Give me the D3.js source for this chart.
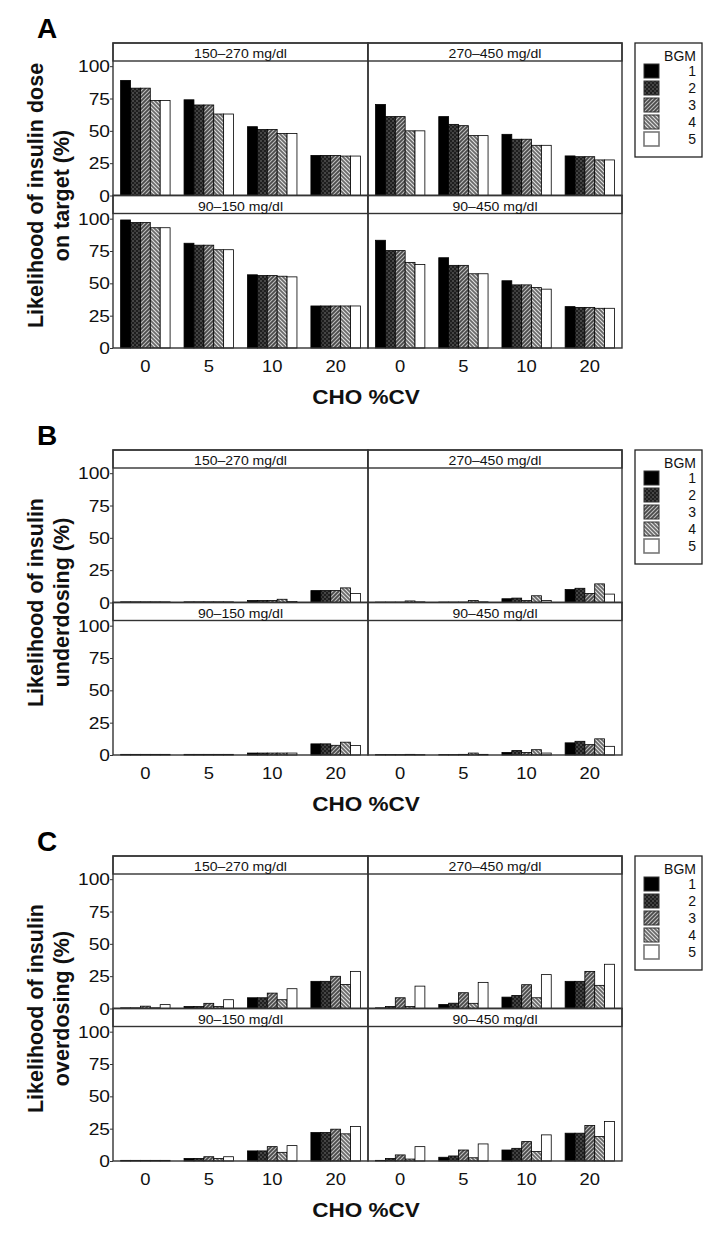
<!DOCTYPE html>
<html><head><meta charset="utf-8">
<script src="https://cdn.jsdelivr.net/npm/d3@7/dist/d3.min.js"></script>
<style>body{margin:0;background:#fff}svg{display:block}</style>
</head><body>
<script>
// ---- data ----
const cvLevels = ["0", "5", "10", "20"];
const bgmLevels = ["1", "2", "3", "4", "5"];
const facetNames = ["150–270 mg/dl", "270–450 mg/dl", "90–150 mg/dl", "90–450 mg/dl"];
const panelLetters = ["A", "B", "C"];
const yTitles = [["Likelihood of insulin dose", "on target (%)"], ["Likelihood of insulin", "underdosing (%)"], ["Likelihood of insulin", "overdosing (%)"]];
const xTitle = "CHO %CV";
const legendTitle = "BGM";
const yTicks = [0, 25, 50, 75, 100];

// rows = CHO %CV levels, columns = BGM 1..5
const onTarget_150_270 = [[89, 83, 83, 73.5, 73.5], [74, 70, 70, 63, 63], [53.2, 51, 51, 48, 48], [31, 31, 31, 30.5, 30.5]];
const onTarget_270_450 = [[70.4, 61, 61, 50, 50], [61, 55, 54, 46.3, 46.3], [47.3, 43.5, 43.5, 38.8, 38.8], [30.6, 30, 30, 27.5, 27.5]];
const onTarget_90_150 = [[99, 97, 97, 93, 93], [81, 79.5, 79.5, 76, 76], [56.6, 56, 56, 55.5, 55], [32.5, 32.5, 32.5, 32.5, 32.5]];
const onTarget_90_450 = [[83.3, 75.3, 75.3, 66.2, 64.6], [69.8, 63.9, 63.9, 57.4, 57.4], [52, 48.8, 48.8, 46.7, 45.5], [32, 31.4, 31.4, 30.7, 30.7]];

const under_150_270 = [[0.5, 0.5, 0.5, 0.5, 0.5], [0.5, 0.5, 0.5, 0.5, 0.5], [1.5, 1.5, 1.5, 2.5, 0.8], [9.2, 9.2, 9.2, 11.3, 7]];
const under_270_450 = [[0.3, 0.3, 0.3, 1.2, 0.5], [0.3, 0.3, 0.3, 1.5, 0.5], [2.9, 3.4, 1.5, 5.2, 1.5], [10, 11, 7, 14.4, 6.5]];
const under_90_150 = [[0.5, 0.5, 0.5, 0.5, 0.5], [0.5, 0.5, 0.5, 0.5, 0.5], [1.5, 1.5, 1.5, 1.5, 1.5], [8.6, 8.6, 7.5, 9.9, 7.3]];
const under_90_450 = [[0.3, 0.3, 0.3, 0.5, 0.3], [0.3, 0.3, 0.5, 1.5, 0.5], [2, 3.4, 2, 4.1, 1.5], [9.4, 10.6, 8, 12.5, 6.7]];

const over_150_270 = [[0.5, 0.5, 1.8, 0.5, 3], [1.5, 1.5, 4, 1.5, 6.8], [8.3, 8.3, 11.9, 6.8, 15.3], [21, 21, 24.9, 18.6, 28.7]];
const over_270_450 = [[0.5, 1.5, 8.3, 1.5, 17.3], [3.1, 4.1, 12.2, 4, 20.2], [8.8, 10.1, 18.4, 8.3, 26.2], [21, 21, 28.7, 17.9, 34.2]];
const over_90_150 = [[0.5, 0.5, 0.5, 0.5, 0.5], [2, 2, 3.3, 2, 3.3], [7.8, 7.8, 11.1, 6.7, 11.9], [22, 22, 24.6, 21, 26.7]];
const over_90_450 = [[0.5, 2, 4.7, 1.5, 11.1], [2.9, 3.9, 8.5, 2.5, 13.2], [8.5, 9.8, 15, 7.3, 20.2], [21.5, 21.5, 27.4, 18.9, 30.5]];

const panelData = [
  [onTarget_150_270, onTarget_270_450, onTarget_90_150, onTarget_90_450],
  [under_150_270, under_270_450, under_90_150, under_90_450],
  [over_150_270, over_270_450, over_90_150, over_90_450]
];

// ---- layout ----
const W = 724, H = 1237;
const panelTops = [43, 450, 856];
const colX = [[113, 368], [368, 622]];
const rowH = 152.5, stripH = 18;
const FONT = "'Liberation Sans', Arial, Helvetica, sans-serif";
const lineCol = "#333";

const svg = d3.select("body").append("svg").attr("width", W).attr("height", H);
const defs = svg.append("defs");

// patterns
function pat(id, bg, draw) {
  const p = defs.append("pattern").attr("id", id).attr("patternUnits", "userSpaceOnUse")
    .attr("width", 4).attr("height", 4);
  p.append("rect").attr("width", 4).attr("height", 4).attr("fill", bg);
  draw(p);
}
pat("p2", "#1e1e1e", p => {
  p.append("rect").attr("x", 0.5).attr("y", 0.5).attr("width", 1).attr("height", 1).attr("fill", "#bbb");
  p.append("rect").attr("x", 2.5).attr("y", 2.5).attr("width", 1).attr("height", 1).attr("fill", "#999");
});
pat("p3", "#4a4a4a", p => {
  p.append("path").attr("d", "M-1,1 L1,-1 M0,4 L4,0 M3,5 L5,3").attr("stroke", "#bdbdbd").attr("stroke-width", 1.1);
});
pat("p4", "#6a6a6a", p => {
  p.append("path").attr("d", "M-1,3 L1,5 M0,0 L4,4 M3,-1 L5,1").attr("stroke", "#e0e0e0").attr("stroke-width", 1.1);
});
const fills = ["#000", "url(#p2)", "url(#p3)", "url(#p4)", "#fff"];

function stretchText(g, x, y, txt, size, sx, anchor, weight) {
  return g.append("text")
    .attr("transform", `translate(${x},${y}) scale(${sx},1)`)
    .attr("text-anchor", anchor || "middle")
    .attr("font-family", FONT).attr("font-size", size)
    .attr("font-weight", weight || "normal").attr("fill", "#111")
    .text(txt);
}

panelTops.forEach((T, pi) => {
  const g = svg.append("g");
  // panel letter
  g.append("text").attr("x", 37).attr("y", T - 5).attr("font-family", FONT)
    .attr("font-size", 28).attr("font-weight", "bold").attr("fill", "#000").text(panelLetters[pi]);

  // y-axis title (two lines rotated)
  const cy = T + rowH;
  yTitles[pi].forEach((ln, li) => {
    g.append("text").attr("transform", `translate(${43 + li * 26},${cy}) rotate(-90)`)
      .attr("text-anchor", "middle").attr("font-family", FONT).attr("font-size", 21.5)
      .attr("font-weight", "bold").attr("fill", "#111").text(ln);
  });

  // x title
  stretchText(g, 366, T + 361, xTitle, 20.5, 1.1, "middle", "bold");

  for (let r = 0; r < 2; r++) {
    for (let c = 0; c < 2; c++) {
      const fi = r * 2 + c;
      const vals = panelData[pi][fi];
      const x0 = colX[c][0], x1 = colX[c][1];
      const top = T + r * rowH;
      const plotTop = top + stripH, plotBot = top + rowH;
      const y = d3.scaleLinear().domain([0, 104]).range([plotBot, plotTop]);
      const xb = d3.scaleBand().domain(cvLevels).range([x0, x1]).paddingInner(0.22).paddingOuter(0.12);
      const xi = d3.scaleBand().domain(bgmLevels).range([0, xb.bandwidth()]);

      const fg = g.append("g");
      // bars
      cvLevels.forEach((cv, ci) => {
        fg.selectAll(null).data(vals[ci]).enter().append("rect")
          .attr("x", (d, bi) => xb(cv) + xi(bgmLevels[bi]))
          .attr("width", xi.bandwidth())
          .attr("y", d => y(d))
          .attr("height", d => y(0) - y(d))
          .attr("fill", (d, bi) => fills[bi])
          .attr("stroke", "#000").attr("stroke-width", 0.8);
      });
      // strip
      fg.append("rect").attr("x", x0).attr("y", top).attr("width", x1 - x0).attr("height", stripH)
        .attr("fill", "#fff").attr("stroke", lineCol).attr("stroke-width", 1.4);
      stretchText(fg, (x0 + x1) / 2, top + 15, facetNames[fi], 12, 1.17, "middle");
      // frame
      fg.append("rect").attr("x", x0).attr("y", top).attr("width", x1 - x0).attr("height", rowH)
        .attr("fill", "none").attr("stroke", lineCol).attr("stroke-width", 1.4);

      // y axis on left column
      if (c === 0) {
        const ax = fg.append("g").attr("transform", `translate(${x0},0)`)
          .call(d3.axisLeft(y).tickValues(yTicks).tickSize(3).tickFormat(""));
        ax.select(".domain").remove();
        ax.selectAll("line").attr("stroke", lineCol).attr("stroke-width", 1);
        yTicks.forEach(t => {
          stretchText(fg, x0 - 3, y(t) + 6, String(t), 16, 1.2, "end");
        });
      }
      // x tick labels on bottom row
      if (r === 1) {
        cvLevels.forEach(cv => {
          stretchText(fg, xb(cv) + xb.bandwidth() / 2, T + 329, cv, 16, 1.15, "middle");
        });
      }
    }
  }

  // legend
  const lg = g.append("g");
  lg.append("rect").attr("x", 635).attr("y", T).attr("width", 67).attr("height", 114)
    .attr("fill", "#fff").attr("stroke", "#222").attr("stroke-width", 1.3);
  lg.append("text").attr("x", 696).attr("y", T + 18).attr("text-anchor", "end")
    .attr("font-family", FONT).attr("font-size", 14).attr("fill", "#111").text(legendTitle);
  bgmLevels.forEach((b, bi) => {
    const ry = T + 28 + bi * 17;
    lg.append("rect").attr("x", 644).attr("y", ry - 7).attr("width", 15).attr("height", 14)
      .attr("fill", fills[bi]).attr("stroke", bi === 4 ? "#777" : "#333").attr("stroke-width", bi === 4 ? 1.6 : 1);
    lg.append("text").attr("x", 696).attr("y", ry + 5).attr("text-anchor", "end")
      .attr("font-family", FONT).attr("font-size", 14).attr("fill", "#111").text(b);
  });
});
</script>
</body></html>
